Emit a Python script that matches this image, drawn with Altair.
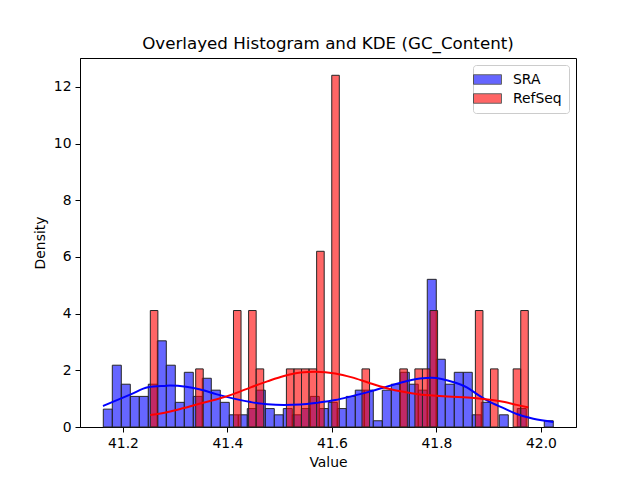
import altair as alt
import numpy as np
import pandas as pd

# Histogram bin ranges (first left edge, last right edge) and per-bin densities
sra_range = (41.1623, 42.0235)
sra_density = [
    0.63, 2.18, 1.51, 1.08, 1.08, 1.51, 3.04, 2.18, 0.87, 1.93,
    1.08, 1.72, 1.30, 0.87, 0.43, 0.43, 0.65, 1.30, 0.65, 0.43,
    0.65, 0.43, 0.65, 1.08, 0.65, 0.87, 0.65, 1.08, 1.30, 1.30,
    0.22, 1.30, 1.51, 1.93, 1.51, 1.30, 5.21, 2.39, 1.51, 1.93,
    1.93, 0.43, 0.87, 0.00, 0.43, 0.00, 0.65, 0.00, 0.00, 0.22,
]

refseq_range = (41.2523, 41.9757)
refseq_density = [
    4.11, 0.00, 0.00, 0.00, 0.00, 0.00, 2.05, 0.00, 0.00, 0.00,
    0.00, 4.11, 0.00, 4.11, 2.05, 0.00, 0.00, 0.00, 2.05, 2.05,
    2.05, 2.05, 6.20, 0.00, 12.41, 0.00, 0.00, 0.00, 2.05, 0.00,
    0.00, 0.00, 0.00, 2.05, 0.00, 2.05, 2.05, 4.11, 0.00, 0.00,
    0.00, 0.00, 0.00, 4.11, 0.00, 2.05, 0.00, 0.00, 2.05, 4.11,
]

# Kernel density estimates
sra_kde_x = [41.1617, 41.2159, 41.2478, 41.2798, 41.2900, 41.3206, 41.3460,
             41.3780, 41.4100, 41.4444, 41.4762, 41.5081, 41.5401, 41.5745,
             41.6063, 41.6383, 41.6702, 41.7047, 41.7364, 41.7684, 41.7904,
             41.8348, 41.8580, 41.8825, 41.8986, 41.9305, 41.9535, 41.9853,
             42.0235]
sra_kde_y = [0.74, 1.16, 1.40, 1.45, 1.46, 1.42, 1.33,
             1.16, 1.01, 0.88, 0.80, 0.78, 0.79, 0.86,
             0.95, 1.09, 1.24, 1.42, 1.59, 1.71, 1.74,
             1.57, 1.40, 1.10, 0.92, 0.65, 0.46, 0.29,
             0.18]

refseq_kde_x = [41.2523, 41.2861, 41.3143, 41.3460, 41.3780, 41.4124, 41.4444,
                41.4762, 41.5081, 41.5401, 41.5680, 41.6063, 41.6383, 41.6702,
                41.7047, 41.7364, 41.7684, 41.8004, 41.8666, 41.9305, 41.9535,
                41.9757]
refseq_kde_y = [0.42, 0.53, 0.66, 0.82, 0.97, 1.17, 1.40,
                1.61, 1.80, 1.92, 1.95, 1.89, 1.75, 1.56,
                1.37, 1.24, 1.15, 1.10, 1.03, 0.88, 0.78,
                0.69]

series_names = ["SRA", "RefSeq"]
series_colors = ["#0000ff", "#ff0000"]


def hist_rows(name, rng, dens):
    edges = np.linspace(rng[0], rng[1], len(dens) + 1)
    return [
        {"series": name, "x0": edges[i], "x1": edges[i + 1], "density": d}
        for i, d in enumerate(dens)
        if d > 0
    ]


hist = pd.DataFrame(
    hist_rows("SRA", sra_range, sra_density)
    + hist_rows("RefSeq", refseq_range, refseq_density)
)
kde_sra = pd.DataFrame({"x": sra_kde_x, "density": sra_kde_y})
kde_ref = pd.DataFrame({"x": refseq_kde_x, "density": refseq_kde_y})

x_scale = alt.Scale(domain=[41.1177, 42.067], nice=False, zero=False)
y_scale = alt.Scale(domain=[0, 13.02], nice=False, zero=True)

x_axis = alt.Axis(title="Value", values=[41.2, 41.4, 41.6, 41.8, 42.0], format=".1f")
y_axis = alt.Axis(title="Density", values=[0, 2, 4, 6, 8, 10, 12], format="d")

bars = alt.Chart(hist).mark_rect(
    fillOpacity=0.6, stroke="#262626", strokeWidth=1
).encode(
    x=alt.X("x0:Q", scale=x_scale, axis=x_axis),
    x2="x1:Q",
    y=alt.Y("density:Q", scale=y_scale, axis=y_axis),
    y2=alt.datum(0),
    color=alt.Color(
        "series:N",
        scale=alt.Scale(domain=series_names, range=series_colors),
        legend=alt.Legend(
            title=None,
            orient="top-right",
            offset=7,
            padding=7,
            symbolType="M-2,-0.68H2V0.68H-2Z",
            symbolSize=196,
            symbolOpacity=0.6,
            symbolStrokeColor="#000000",
            symbolStrokeWidth=1,
            labelOffset=18,
            rowPadding=4,
        ),
    ),
)

line_sra = alt.Chart(kde_sra).mark_line(
    color="#0000ff", strokeWidth=2, interpolate="monotone"
).encode(x=alt.X("x:Q", scale=x_scale), y=alt.Y("density:Q", scale=y_scale))

line_ref = alt.Chart(kde_ref).mark_line(
    color="#ff0000", strokeWidth=2, interpolate="monotone"
).encode(x=alt.X("x:Q", scale=x_scale), y=alt.Y("density:Q", scale=y_scale))

chart = (
    alt.layer(bars, line_sra, line_ref)
    .properties(
        width=496,
        height=369,
        title=alt.TitleParams(
            "Overlayed Histogram and KDE (GC_Content)",
            font="DejaVu Sans",
            fontSize=16.7,
            fontWeight="normal",
            color="black",
            offset=5,
        ),
        autosize=alt.AutoSizeParams(type="none"),
        padding={"left": 80, "top": 58, "right": 64, "bottom": 53},
    )
    .configure_view(stroke="black", strokeWidth=1)
    .configure_axis(
        grid=False,
        labelFont="DejaVu Sans",
        labelFontSize=13.9,
        labelColor="black",
        titleFont="DejaVu Sans",
        titleFontSize=13.9,
        titleFontWeight="normal",
        titleColor="black",
        domainColor="black",
        domainWidth=1,
        tickColor="black",
        tickSize=5,
        tickWidth=1,
        labelPadding=4,
    )
    .configure_axisX(titlePadding=6)
    .configure_axisY(titlePadding=6)
    .configure_legend(
        fillColor="white",
        strokeColor="#cccccc",
        cornerRadius=3,
        labelFont="DejaVu Sans",
        labelFontSize=13.9,
        labelColor="black",
    )
)

chart.save("out.html", embed_options={"renderer": "svg", "actions": False})
